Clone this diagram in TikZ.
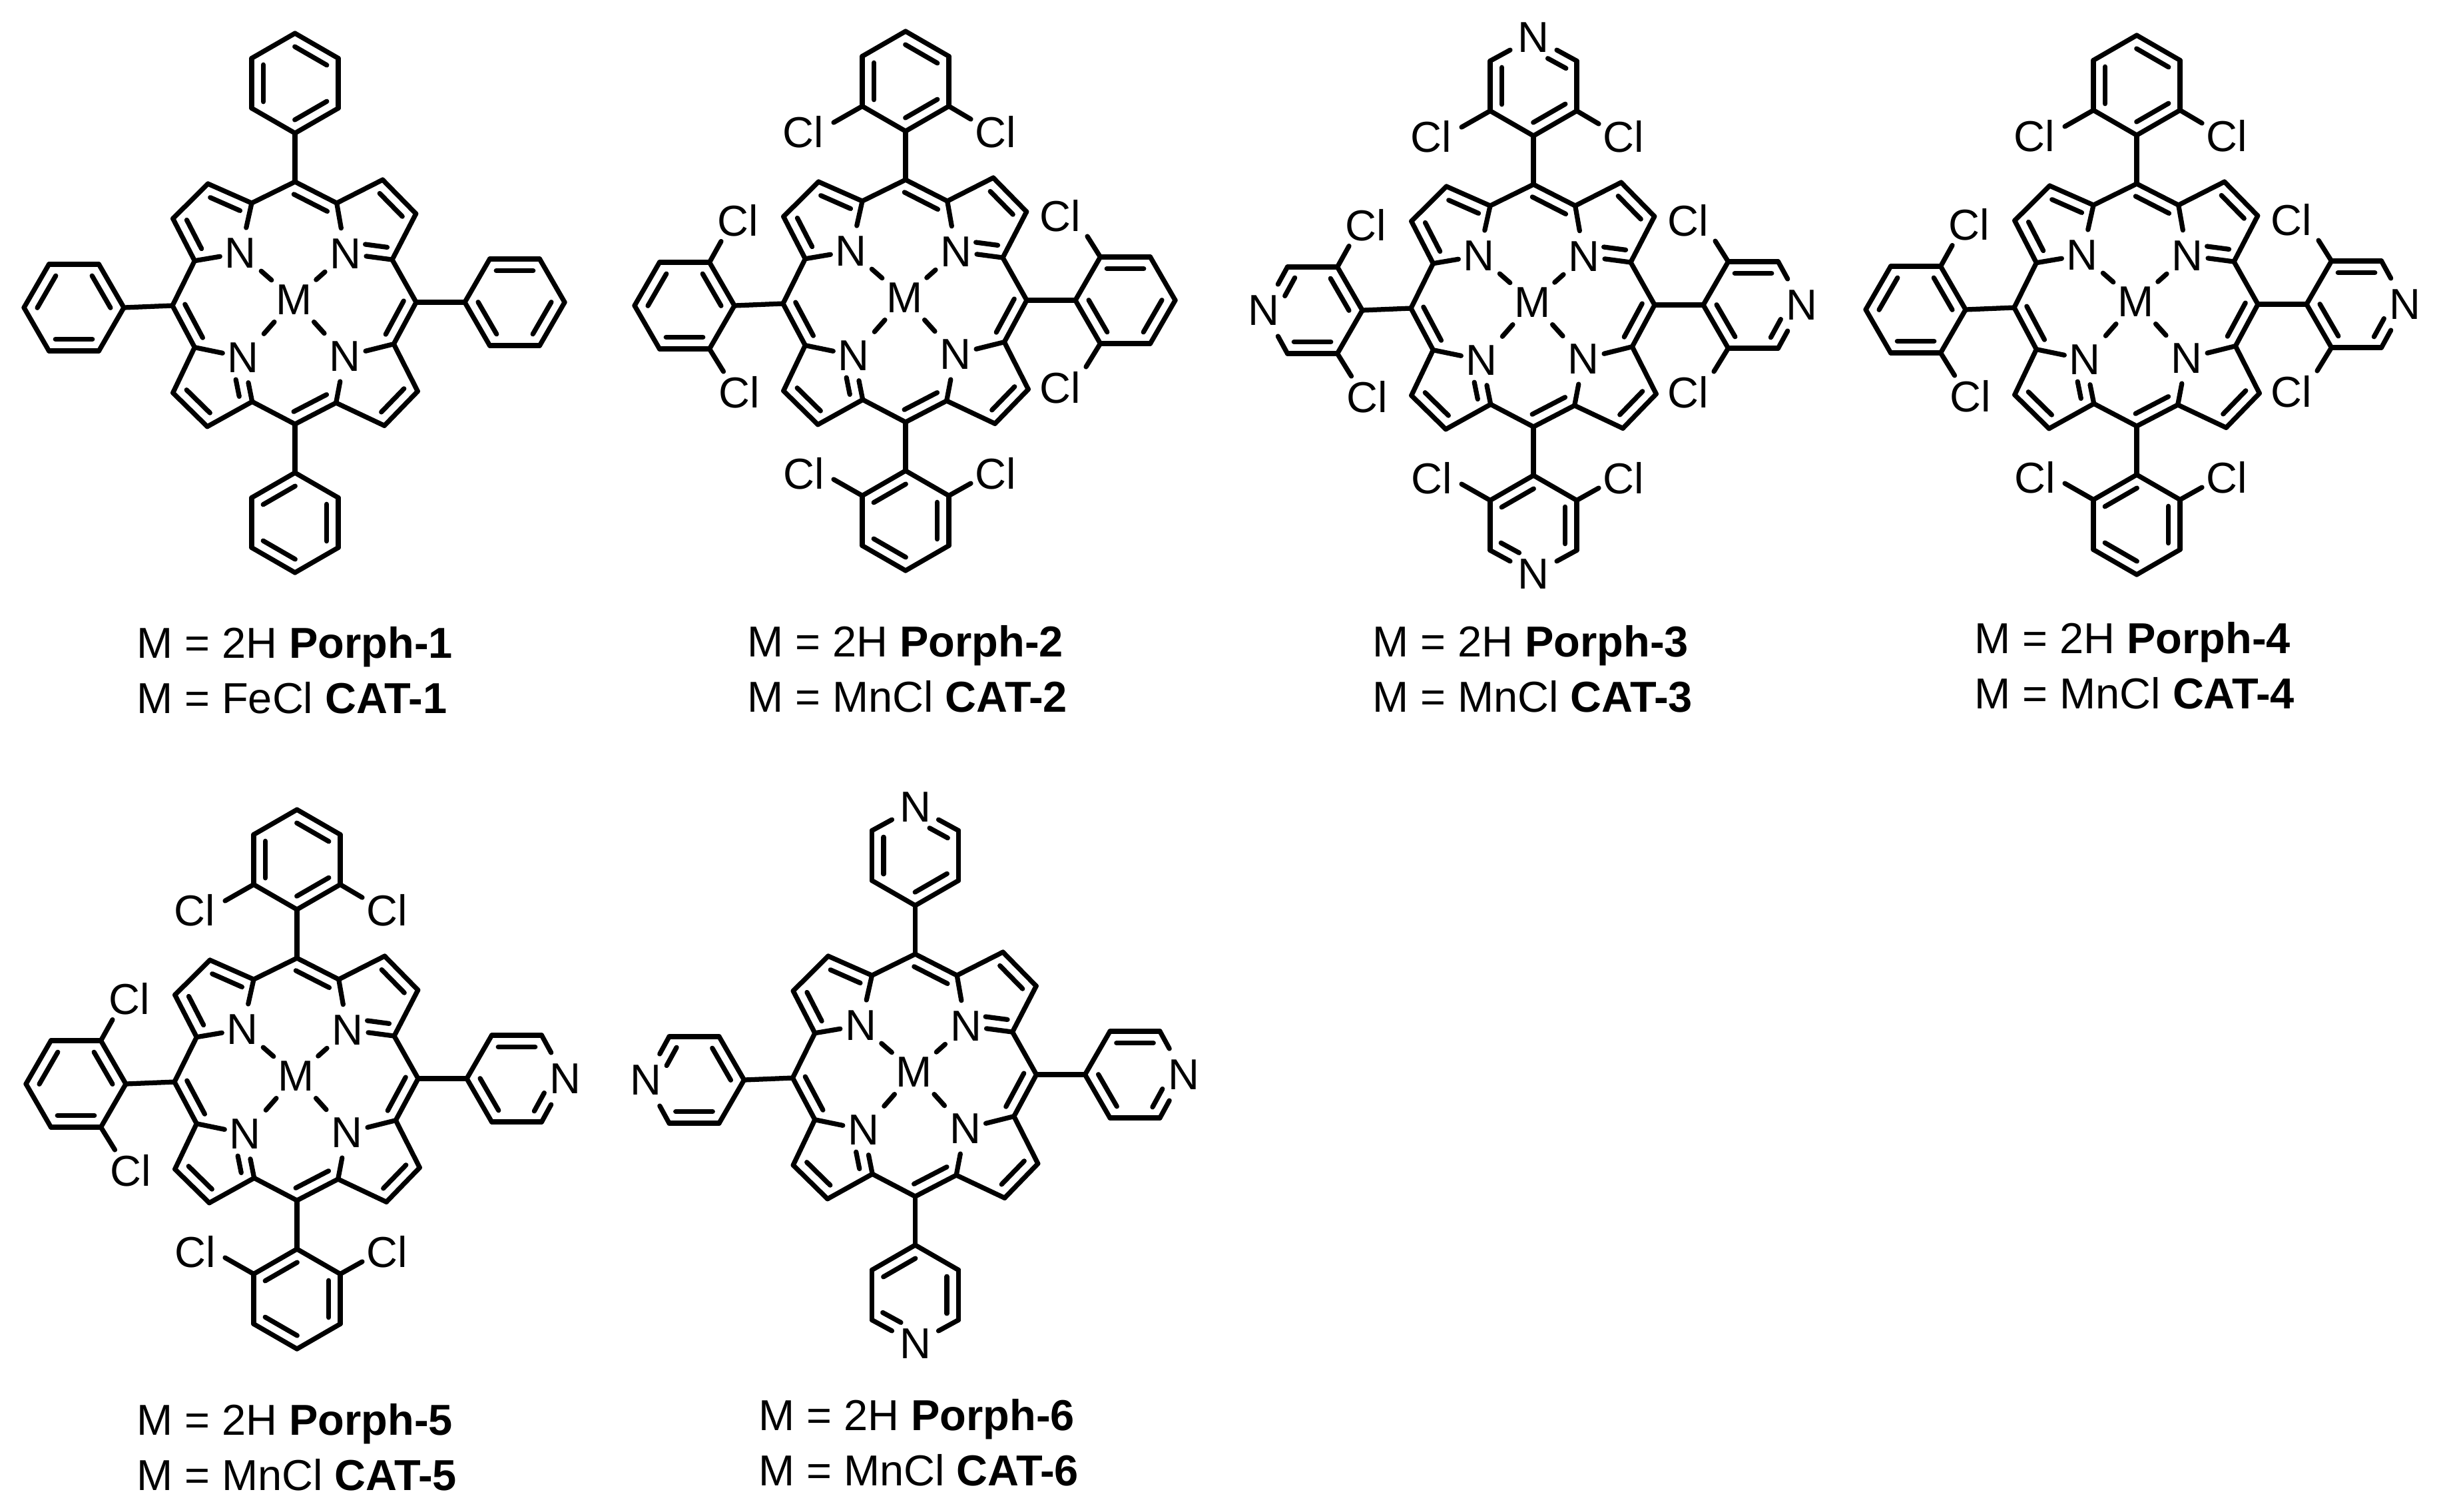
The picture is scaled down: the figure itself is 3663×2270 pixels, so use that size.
\documentclass[tikz,border=0pt]{standalone}
\usepackage{fontspec}
\setmainfont{Liberation Sans}
\usetikzlibrary{calc}
\tikzset{
  bond/.style={line width=1.45pt,line cap=round,line join=round,draw=black},
  chemfont/.style={font=\fontsize{13}{15}\selectfont},
  atomN/.style={chemfont,inner sep=0pt,minimum width=12pt,minimum height=14.8pt},
  atomP/.style={chemfont,inner sep=0pt,minimum width=13.6pt,minimum height=15.2pt},
  atomM/.style={chemfont,inner sep=0pt,minimum width=13pt,minimum height=13pt},
  atomCl/.style={chemfont,inner sep=0pt},
  caption/.style={chemfont,inner sep=0pt,anchor=base west}
}
% double bond: outer line a-b, inner line on the right of a->b (on screen)
\newcommand\DblB[4]{%
  \draw[bond] (#1) -- (#2);
  \draw[bond] ($(#1)!#3!(#2)!3.5pt!-90:(#2)$) -- ($(#1)!#4!(#2)!3.5pt!90:(#1)$);
}
\newcommand\SngB[2]{\draw[bond] (#1) -- (#2);}
% chlorine: name, atom, bond end, label position (molecule frame)
\newcommand\ClSub[4]{%
  \node[atomCl] (#1) at (#4) {Cl};
  \coordinate (#1e) at (#3);
  \draw[bond] (#2) -- (#1e);
}
\newcommand\ClSettop{%
  \ClSub{top-cla}{top-r2}{-107,-268}{-153,-253.5}
  \ClSub{top-clb}{top-r6}{99,-273}{136,-253.5}}
\newcommand\ClSetbot{%
  \ClSub{bot-cla}{bot-r2}{99,274}{136,259.5}
  \ClSub{bot-clb}{bot-r6}{-107,268}{-152,259.5}}
\newcommand\ClSetlft{%
  \ClSub{lft-cla}{lft-r2}{-272.5,106}{-248.5,137}
  \ClSub{lft-clb}{lft-r6}{-276,-89.5}{-250.5,-121}}
\newcommand\ClSetrgt{%
  \ClSub{rgt-cla}{rgt-r2}{274,-97}{233.5,-128}
  \ClSub{rgt-clb}{rgt-r6}{272,99}{233.5,130}}
% aryl ring: position name, shift x, y, rotation, kind (0 Ph, 1 Py, 2 DCP, 3 DCPy), meso atom
\newcommand\ArRing[6]{%
  \begin{scope}[shift={(#2,#3)},rotate=#4,name prefix=\curmol-#1-]
    \coordinate (r1) at (0,-73);
    \coordinate (r2) at (-65,-110.5);
    \coordinate (r3) at (-65,-185.5);
    \coordinate (r5) at (65,-185.5);
    \coordinate (r6) at (65,-110.5);
    \ifodd#5\relax
      \node[atomP] (r4) at (0,-221) {N};
    \else
      \coordinate (r4) at (0,-223);
    \fi
  \end{scope}
  \begin{scope}[name prefix=\curmol-#1-]
    \SngB{r1}{r2}
    \DblB{r2}{r3}{.13}{.87}
    \SngB{r3}{r4}
    \ifodd#5\relax
      \DblB{r4}{r5}{.46}{.88}
    \else
      \DblB{r4}{r5}{.13}{.87}
    \fi
    \SngB{r5}{r6}
    \DblB{r6}{r1}{.13}{.87}
  \end{scope}
  \SngB{#6}{#1-r1}
  \ifnum#5>1\relax
    \csname ClSet#1\endcsname
  \fi
}
% whole porphyrin: id, centre x, y, kinds top left right bottom
\newcommand\Porph[7]{%
  \def\curmol{#1}%
  \begin{scope}[shift={(#2,#3)},name prefix=#1-]
    \coordinate (mT) at (1,-182);
    \coordinate (aTR) at (63.7,-150);
    \coordinate (bTRa) at (132.7,-185);
    \coordinate (bTRb) at (182.7,-134);
    \coordinate (aTRb) at (147,-65);
    \coordinate (mR) at (183,-1);
    \coordinate (aBRa) at (149.3,61.7);
    \coordinate (bBRa) at (185.3,132.7);
    \coordinate (bBRb) at (135.3,184.3);
    \coordinate (aBRb) at (62.7,150);
    \coordinate (mB) at (1,182);
    \coordinate (aBLa) at (-63.3,148.3);
    \coordinate (bBLa) at (-130.7,185.7);
    \coordinate (bBLb) at (-182.3,135);
    \coordinate (aBLb) at (-149.7,66.7);
    \coordinate (mL) at (-183,4);
    \coordinate (aTLa) at (-149.7,-63.3);
    \coordinate (bTLa) at (-182.3,-126.7);
    \coordinate (bTLb) at (-129.7,-179);
    \coordinate (aTLb) at (-64,-150);
    \node[atomN] (NTL) at (-80.7,-75) {N};
    \node[atomN] (NTR) at (77,-74.3) {N};
    \node[atomN] (NBL) at (-76.7,81.7) {N};
    \node[atomN] (NBR) at (76,80) {N};
    \node[atomM] (M) at (-0.7,-5) {M};
    \SngB{M}{NTL}\SngB{M}{NTR}\SngB{M}{NBL}\SngB{M}{NBR}
    \DblB{mT}{aTR}{.1}{.9}
    \SngB{aTR}{bTRa}
    \DblB{bTRa}{bTRb}{.16}{.84}
    \SngB{bTRb}{aTRb}
    \DblB{aTRb}{NTR}{.14}{.61}
    \SngB{NTR}{aTR}
    \SngB{aTRb}{mR}
    \DblB{mR}{aBRa}{.1}{.9}
    \SngB{aBRa}{bBRa}
    \DblB{bBRa}{bBRb}{.16}{.84}
    \SngB{bBRb}{aBRb}
    \SngB{aBRb}{NBR}
    \SngB{NBR}{aBRa}
    \DblB{aBRb}{mB}{.1}{.9}
    \SngB{mB}{aBLa}
    \SngB{aBLa}{bBLa}
    \DblB{bBLa}{bBLb}{.16}{.84}
    \SngB{bBLb}{aBLb}
    \SngB{aBLb}{NBL}
    \DblB{NBL}{aBLa}{.45}{.83}
    \DblB{aBLb}{mL}{.1}{.9}
    \SngB{mL}{aTLa}
    \DblB{aTLa}{bTLa}{.16}{.84}
    \SngB{bTLa}{bTLb}
    \DblB{bTLb}{aTLb}{.16}{.84}
    \SngB{aTLb}{NTL}
    \SngB{NTL}{aTLa}
    \SngB{aTLb}{mT}
    \ArRing{top}{1}{-182}{0}{#4}{mT}
    \ArRing{lft}{-183}{7}{90}{#5}{mL}
    \ArRing{rgt}{183}{-1}{-90}{#6}{mR}
    \ArRing{bot}{1}{182}{180}{#7}{mB}
  \end{scope}
}
\newcommand\Capt[6]{%
  \node[caption] (#1a) at (#2,#3) {M = 2H \textbf{#4}};
  \node[caption] (#1b) at (#2,#3+83) {M = #5 \textbf{#6}};
}
\begin{document}
\begin{tikzpicture}[x=0.2pt,y=-0.2pt]
  \useasboundingbox (0,0) rectangle (3663,2270);
  \Porph{pa}{442}{455}{0}{0}{0}{0}
  \Porph{pb}{1359}{452}{2}{2}{2}{2}
  \Porph{pc}{2302}{459}{3}{3}{3}{3}
  \Porph{pd}{3208}{458}{2}{2}{3}{2}
  \Porph{pe}{445}{1621}{2}{2}{1}{2}
  \Porph{pf}{1373.5}{1615}{1}{1}{1}{1}
  \Capt{ca}{204}{988}{Porph-1}{FeCl}{CAT-1}
  \Capt{cb}{1121}{986}{Porph-2}{MnCl}{CAT-2}
  \Capt{cc}{2060}{986}{Porph-3}{MnCl}{CAT-3}
  \Capt{cd}{2964}{981}{Porph-4}{MnCl}{CAT-4}
  \Capt{ce}{204}{2155}{Porph-5}{MnCl}{CAT-5}
  \Capt{cf}{1138}{2148}{Porph-6}{MnCl}{CAT-6}
\end{tikzpicture}
\end{document}
